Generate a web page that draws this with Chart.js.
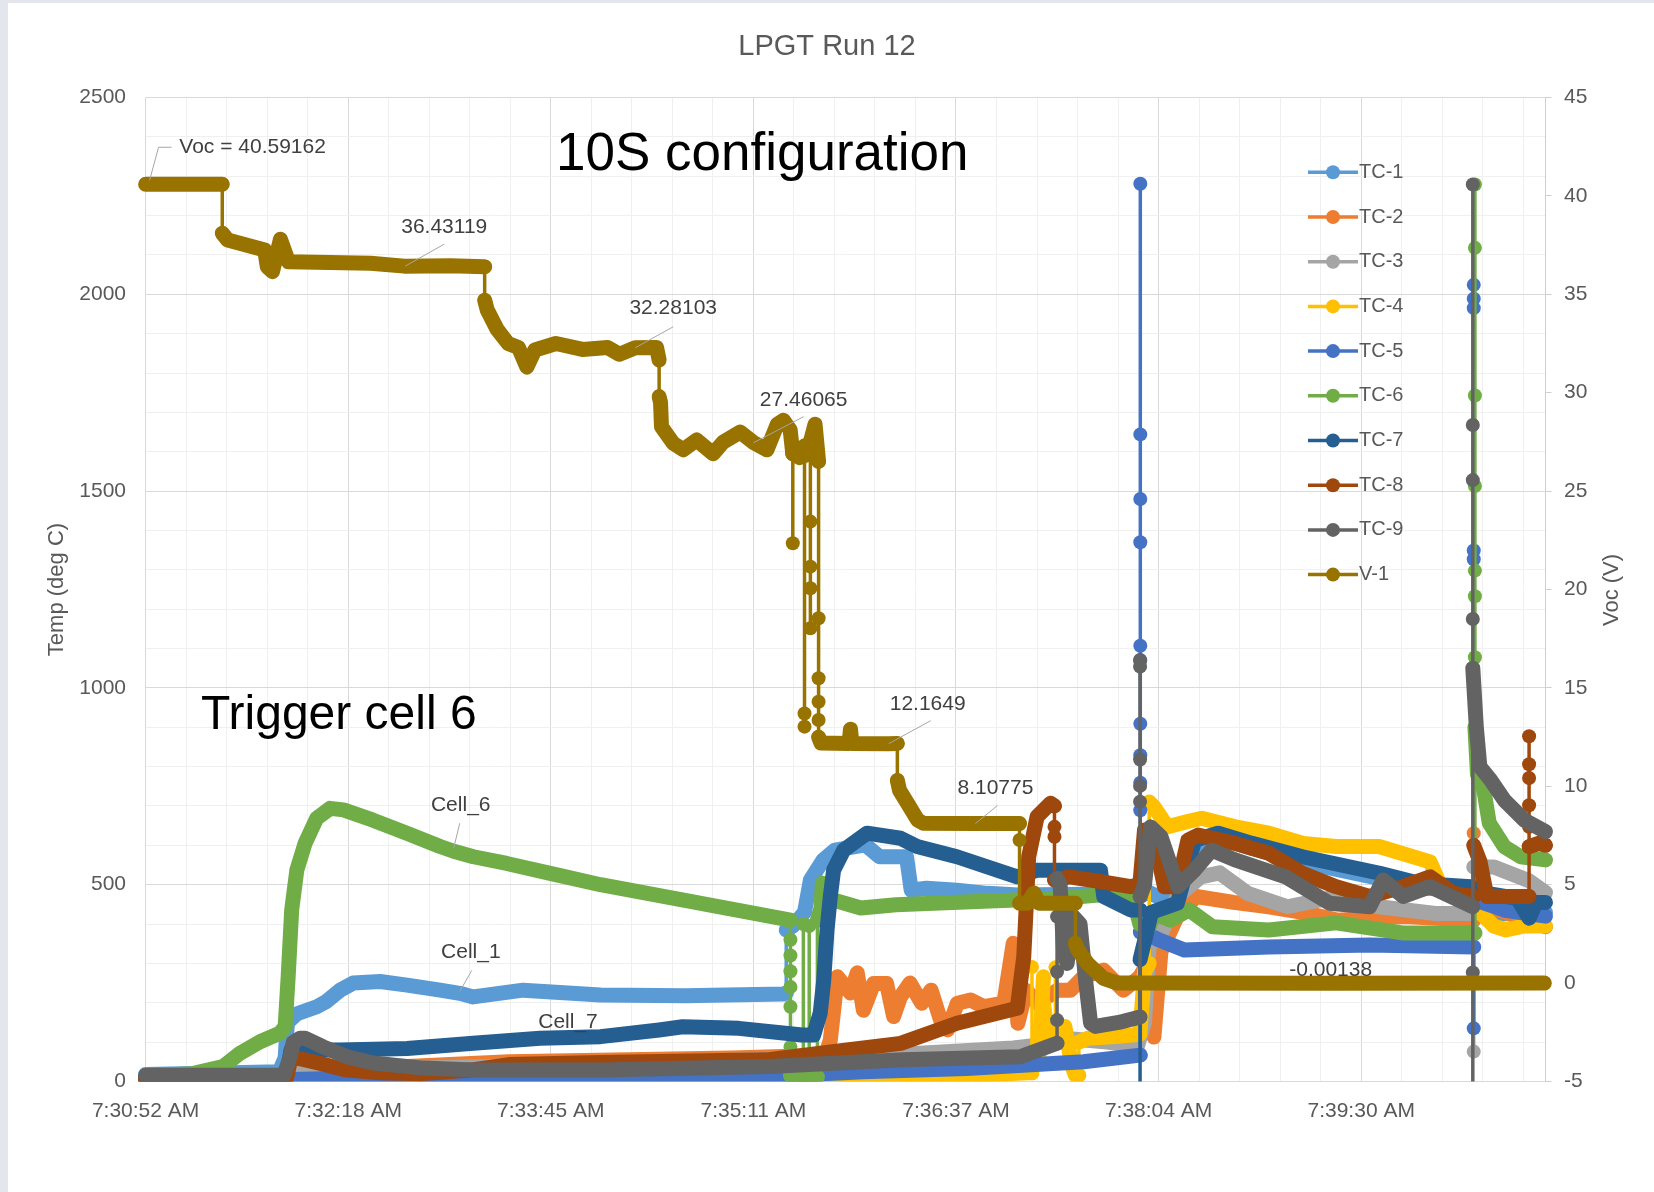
<!DOCTYPE html>
<html>
<head>
  <meta charset="utf-8">
  <title>LPGT Run 12</title>
  <script src="https://cdn.jsdelivr.net/npm/chart.js@4.4.0/dist/chart.umd.min.js"></script>
  <style>
    html, body { margin: 0; }
    body {
      width: 1654px;
      height: 1192px;
      overflow: hidden;
      background:
        linear-gradient(to bottom, #e3e6ec 0 3px, transparent 3px),
        linear-gradient(to right, #e3e6ec 0 8px, #ffffff 8px);
    }
    canvas { display: block; }
  </style>
</head>
<body>
<canvas id="chartEl" width="1654" height="1192"></canvas>
<script>
  // x = seconds after 7:30:51.8, y = deg C (V-1 is volts on the right axis)
  const tc1 = [[0,18],[57,25],[59.5,60],[60.5,150],[64.6,172],[73,190],[77,203],[83,232],[88.5,250],[100,254],[111.5,245],[125.6,232],[134,224],[139.7,215],[161,232],[194,220],[230,218],[272,222],[273.2,225],[273.2,385],[276,395],[281,430],[283.5,512],[289,563],[294,588],[307,601],[313,571],[324.5,571],[326.5,486],[333,491],[346,486],[359,478],[372,474],[400,476],[423,470],[428,480],[440,445],[448,600],[458,618],[472,592],[493,558],[526,516],[543,492],[566,484],[566,420],[575,425],[597,430]];
  const tc2 = [[0,6],[59,8],[62,30],[100,35],[155,50],[250,60],[286,66],[290,68],[292,105],[293.3,174],[295,266],[300.6,225],[303.5,276],[306.1,181],[310.5,249],[316,249],[319,165],[321.9,215],[326,250],[331,199],[335,232],[339,156],[342,131],[346.2,199],[351.8,207],[357.5,190],[366,199],[370,351],[372,148],[375.5,232],[380.3,199],[389,232],[394.4,232],[400,266],[408.5,283],[417,232],[424,266],[428,308],[430,113],[433,330],[440,420],[448,470],[464,455],[479,444],[496,427],[508,410],[537,419],[565,410],[566.4,410],[566.4,631],[566.4,436],[577,436],[597,393]];
  const tc3 = [[0,8],[60,10],[62,30],[100,32],[200,45],[300,62],[330,72],[370,85],[388,97],[392,110],[410,100],[423,90],[426,150],[428,350],[432,360],[440,470],[450,520],[458,530],[470,478],[487,444],[508,470],[526,444],[550,427],[566.4,427],[566.4,76],[566.4,545],[575,545],[590,510],[597,480]];
  const tc4 = [[0,3],[62,4],[200,8],[300,12],[360,18],[376,22],[378,22],[378,291],[378,60],[381,60],[382.9,266],[382.9,199],[384,150],[386,120],[388,120],[388,290],[388,120],[392,140],[395,40],[396.5,16],[398,16],[398,100],[402,110],[415,115],[424,120],[426,280],[428,300],[428,710],[430,698],[435.8,647],[444,660],[450.4,669],[464.7,647],[479,631],[493.6,605],[507.7,597],[526,597],[547.8,558],[552,500],[556.6,494],[566,494],[569,430],[575,395],[580,385],[588,395],[597,395]];
  const tc5 = [[0,3],[62,5],[100,10],[194,14],[282,18],[306,25],[350,33],[400,50],[424.2,67],[424.2,2281],[424.2,1644],[424.2,1480],[424.2,1370],[424.2,1107],[424.2,1070],[424.2,909],[424.2,829],[424.2,759],[424.2,689],[424.2,380],[428,372],[432,360],[443,334],[479,342],[522,347],[566.4,342],[566.4,2024],[566.4,1989],[566.4,1965],[566.4,1349],[566.4,1327],[566.4,135],[566.4,470],[570,455],[580,435],[597,420]];
  const tc6 = [[0,14],[20,20],[33,38],[40.3,72],[48.8,101],[57.3,123],[59.5,139],[60.8,266],[62.3,436],[64.5,537],[68,605],[73,669],[78.7,694],[84.4,690],[97,664],[111.4,631],[125.6,597],[131.4,585],[139.8,571],[154,554],[175.4,525],[194,500],[230,460],[275,410],[275,360],[275,320],[275,280],[275,240],[275,190],[275,88],[275,15],[280.5,15],[280.5,400],[280.5,12],[283,12],[283,395],[283,12],[286.5,12],[286.5,410],[288,440],[288.6,504],[293.3,461],[305,441],[320,449],[336,453],[371,461],[390,465],[414,478],[421,470],[424,400],[428,393],[430,427],[437,410],[445,436],[455,393],[479,385],[507.7,403],[536.5,377],[566.9,377],[566.9,2279],[566.9,2118],[566.9,1743],[566.9,1513],[566.9,1298],[566.9,1233],[566.9,1078],[566.9,900],[568,780],[570.7,741],[573,657],[579.4,597],[586.4,571],[597,563]];
  const tc7 = [[0,10],[60,12],[62,80],[82.9,80],[111.5,84],[139.7,97],[168.2,110],[181,112],[194,114],[219,131],[229,139],[253,135],[280,118],[284.9,118],[287.7,174],[289.2,258],[290.6,385],[292,470],[293.4,537],[297.7,588],[307.7,631],[321.9,618],[329,597],[346,571],[371.7,520],[380.2,537],[407.2,537],[408.6,470],[420,436],[424.1,436],[424.1,-40],[424.1,310],[429,430],[440,453],[447.4,613],[457.4,631],[471.8,605],[493.3,571],[526.3,529],[543.5,503],[565.1,495],[570,480],[585,465],[590,415],[593,455],[597,455]];
  const tc8 = [[0,5],[60,6],[62,60],[66,58],[75,45],[85,30],[100,22],[118,20],[140,30],[155,43],[194,48],[265,55],[293,76],[322,97],[346,148],[371.7,186],[374.5,317],[376.6,571],[380.2,673],[385.9,707],[387.6,700],[387.6,647],[387.6,622],[387.6,512],[394,520],[405,510],[420,495],[424,500],[426,639],[430,622],[434.5,495],[440,495],[444.5,613],[448.8,626],[464.6,605],[479,580],[493.3,529],[507.7,495],[522,470],[536.3,495],[547.8,520],[557.8,478],[566.4,470],[566.4,600],[569,560],[572,470],[590,470],[590,877],[590,806],[590,771],[590,702],[590,647],[590,597],[594,605],[597,600]];
  const tc9 = [[0,16],[59,16],[61.5,60],[63,100],[65.9,110],[68,110],[75.7,88],[85.9,63],[97,47],[118.4,34],[139.7,29],[194,29],[266,38],[323,55],[373,63],[388.7,97],[388.7,156],[388.7,279],[388.7,419],[388.7,516],[390,500],[391.5,330],[393,300],[395.5,420],[398.5,400],[401,250],[403,148],[405,140],[415,150],[424.1,164],[424.1,1071],[424.1,1054],[424.1,818],[424.1,751],[424.1,711],[424.1,470],[426,500],[428.6,647],[433,622],[440.2,495],[447.3,537],[454.6,588],[464.6,563],[486.2,520],[504.8,453],[522,444],[527.8,512],[536.3,470],[547.8,495],[566,444],[566,2279],[566,1668],[566,1528],[566,1175],[566,-40],[566,277],[566,1050],[567.5,900],[569,800],[573.6,766],[579.4,715],[588,664],[597,635]];
  const v1 = [[0,40.59162],[16,40.59],[32.7,40.59],[32.7,38.1],[35,37.76],[50.8,37.25],[51.9,36.4],[54.1,36.15],[57.5,37.8],[60.9,36.66],[96,36.58],[110.3,36.43119],[130,36.45],[144.6,36.4],[144.6,34.7],[145.7,34.2],[150,33.2],[154.6,32.5],[159,32.3],[162.6,31.3],[166,32.17],[175,32.5],[186.3,32.2],[197,32.3],[202,31.95],[208.8,32.28103],[217.9,32.3],[219,31.66],[219,29.8],[219.6,29.5],[220,28.27],[225,27.43],[229.3,27.1],[235,27.6],[242,26.9],[246.4,27.5],[253.6,28.0],[259.3,27.46065],[265,27.1],[269.4,28.4],[272,28.6],[274.9,28.1],[276,26.9],[276,22.35],[276,26.9],[279,26.7],[281,27.3],[281,13.7],[281,13.03],[281,26.8],[283.5,27.2],[283.5,23.45],[283.5,21.16],[283.5,20.06],[283.5,18.03],[283.5,27.5],[285.5,28.4],[287,26.5],[287,18.54],[287,15.49],[287,14.3],[287,13.37],[287,12.5],[288,12.2],[300,12.18],[300.6,12.9],[301.2,12.18],[316.9,12.1649],[320.6,12.18],[320.6,10.3],[321.5,9.8],[324.9,9.14],[329.2,8.29],[331.7,8.12],[353.9,8.10775],[372.7,8.11],[372.7,7.27],[372.7,4.06],[376,4.06],[378.8,4.58],[381,4.06],[396.5,4.06],[396.5,2.02],[397.5,1.7],[401.7,1.0],[408.5,0.24],[414.5,0],[420,0],[505.4,-0.00138],[596.5,0]];

  const seriesNames = ['TC-1', 'TC-2', 'TC-3', 'TC-4', 'TC-5', 'TC-6', 'TC-7', 'TC-8', 'TC-9', 'V-1'];
  const seriesData = [tc1, tc2, tc3, tc4, tc5, tc6, tc7, tc8, tc9, v1];
  const seriesColors = ['#5B9BD5', '#ED7D31', '#A5A5A5', '#FFC000', '#4472C4', '#70AD47', '#255E91', '#9E480E', '#636363', '#997300'];

  const timeLabels = ['7:30:52 AM', '7:32:18 AM', '7:33:45 AM', '7:35:11 AM', '7:36:37 AM', '7:38:04 AM', '7:39:30 AM'];
  const tempTicks = [0, 500, 1000, 1500, 2000, 2500];
  const vocTicks = [-5, 0, 5, 10, 15, 20, 25, 30, 35, 40, 45];

  // V-1 readings that get a value label (picked by sample time)
  const voltCallouts = [
    { at: 0, prefix: 'Voc = ', dx: 107, dy: -37, leader: [[4, -4], [13, -37], [26, -37]] },
    { at: 110.3, dx: 40, dy: -39, leader: [[1, 0], [40, -22]] },
    { at: 208.8, dx: 38, dy: -40, leader: [[0, 0], [38, -21]] },
    { at: 259.3, dx: 50, dy: -42, leader: [[0, 0], [50, -26]] },
    { at: 316.9, dx: 39, dy: -39, leader: [[0, 0], [42, -23]] },
    { at: 353.9, dx: 20, dy: -35, leader: [[0, 0], [22, -18]] },
    { at: 505.4, dx: 0, dy: -13 }
  ];
  const cellCallouts = [
    { series: 'TC-6', text: 'Cell_6', at: 131.4, dx: 7, dy: -46, leader: [[0, -3], [6, -28]] },
    { series: 'TC-1', text: 'Cell_1', at: 134, dx: 11, dy: -41, leader: [[0, -2], [12, -23]] },
    { series: 'TC-7', text: 'Cell_7', at: 181, dx: -2, dy: -15 }
  ];
  const bigNotes = [
    { text: '10S configuration', x: 556, y: 170, size: 53 },
    { text: 'Trigger cell 6', x: 201, y: 729, size: 48 }
  ];

  const majorGrid = '#d9d9d9';
  const minorGrid = '#f0f0f0';
  const textGray = '#595959';
  const fontFamily = "'Liberation Sans', Arial, sans-serif";
  const bandWidth = 15;   // dense runs of markers merge into a band
  const lineWidth = 3.5;
  const markerRadius = 7;
  const minorStep = 86.4 / 5;

  Chart.defaults.font.family = fontFamily;

  // a sample shares its time with a neighbour -> sudden jump, drawn thin with markers
  function isJump(data, i) {
    if (i === undefined) return false;
    const t = data[i][0];
    return (i > 0 && data[i - 1][0] === t) || (i < data.length - 1 && data[i + 1][0] === t);
  }

  const datasets = seriesNames.map((label, i) => ({
    label,
    data: seriesData[i],
    yAxisID: label === 'V-1' ? 'y2' : 'y',
    borderColor: seriesColors[i],
    backgroundColor: seriesColors[i],
    pointBackgroundColor: seriesColors[i],
    pointBorderWidth: 0,
    borderWidth: bandWidth,
    borderCapStyle: 'round',
    borderJoinStyle: 'round',
    tension: 0,
    pointRadius: ctx => isJump(ctx.dataset.data, ctx.dataIndex) ? markerRadius : 0,
    segment: {
      borderWidth: ctx => Math.abs(ctx.p0.x - ctx.p1.x) < 0.01 ? lineWidth : bandWidth
    },
    order: seriesNames.length - 1 - i,
    clip: { left: 10, top: 10, right: 10, bottom: 0 }
  }));

  function drawLeader(ctx, x, y, leader) {
    if (!leader) return;
    ctx.beginPath();
    leader.forEach(([lx, ly], k) => k === 0 ? ctx.moveTo(x + lx, y + ly) : ctx.lineTo(x + lx, y + ly));
    ctx.stroke();
  }

  const notesPlugin = {
    id: 'notes',
    afterDatasetsDraw(chart) {
      const { ctx, scales } = chart;
      ctx.save();
      ctx.lineWidth = 1;
      ctx.strokeStyle = '#a6a6a6';
      ctx.fillStyle = '#404040';
      ctx.font = '21px ' + fontFamily;
      ctx.textAlign = 'center';
      ctx.textBaseline = 'middle';

      voltCallouts.forEach(c => {
        const p = v1.find(d => d[0] === c.at);
        const x = scales.x.getPixelForValue(p[0]);
        const y = scales.y2.getPixelForValue(p[1]);
        drawLeader(ctx, x, y, c.leader);
        ctx.fillText((c.prefix || '') + p[1], x + c.dx, y + c.dy);
      });

      cellCallouts.forEach(c => {
        const data = seriesData[seriesNames.indexOf(c.series)];
        const p = data.find(d => d[0] === c.at);
        const x = scales.x.getPixelForValue(p[0]);
        const y = scales.y.getPixelForValue(p[1]);
        drawLeader(ctx, x, y, c.leader);
        ctx.fillText(c.text, x + c.dx, y + c.dy);
      });

      // legend sits inside the plot, top right
      ctx.font = '20px ' + fontFamily;
      ctx.textAlign = 'left';
      chart.data.datasets.forEach((ds, i) => {
        const y = 172.3 + i * 44.7;
        ctx.strokeStyle = ds.borderColor;
        ctx.lineWidth = lineWidth;
        ctx.beginPath();
        ctx.moveTo(1308, y);
        ctx.lineTo(1358, y);
        ctx.stroke();
        ctx.fillStyle = ds.borderColor;
        ctx.beginPath();
        ctx.arc(1333, y, markerRadius, 0, Math.PI * 2);
        ctx.fill();
        ctx.fillStyle = textGray;
        ctx.fillText(ds.label, 1359, y);
      });

      // secondary axis title reads bottom-to-top like the primary one
      ctx.save();
      ctx.translate(1612, 590);
      ctx.rotate(-Math.PI / 2);
      ctx.textAlign = 'center';
      ctx.font = '22px ' + fontFamily;
      ctx.fillText('Voc (V)', 0, 0);
      ctx.restore();

      ctx.fillStyle = '#000000';
      ctx.textBaseline = 'alphabetic';
      bigNotes.forEach(n => {
        ctx.font = n.size + 'px ' + fontFamily;
        ctx.fillText(n.text, n.x, n.y);
      });
      ctx.restore();
    }
  };

  new Chart(chartEl, {
    type: 'line',
    data: { datasets },
    plugins: [notesPlugin],
    options: {
      responsive: false,
      devicePixelRatio: 1,
      animation: false,
      events: [],
      layout: { padding: 0 },
      plugins: {
        legend: { display: false },
        tooltip: { enabled: false },
        title: {
          display: true,
          text: 'LPGT Run 12',
          color: textGray,
          font: { size: 29, weight: 'normal' },
          padding: { top: 30, bottom: 32.7 }
        }
      },
      scales: {
        x: {
          type: 'linear',
          min: 0,
          max: 597,
          afterBuildTicks: axis => {
            axis.ticks = [];
            for (let i = 0; i * minorStep <= 597; i++) axis.ticks.push({ value: i * minorStep });
          },
          afterFit: axis => { axis.height = 110.5; },
          grid: { color: c => c.index % 5 === 0 ? majorGrid : minorGrid, drawTicks: false },
          border: { color: majorGrid },
          ticks: {
            autoSkip: false,
            maxRotation: 0,
            padding: 16.7,
            color: textGray,
            font: { size: 21 },
            callback: (v, i) => i % 5 === 0 ? timeLabels[i / 5] : ''
          }
        },
        y: {
          position: 'left',
          min: 0,
          max: 2500,
          afterFit: axis => { axis.width = 145.6; },
          grid: { color: c => tempTicks.includes(c.tick.value) ? majorGrid : minorGrid, drawTicks: false },
          border: { display: false },
          ticks: {
            stepSize: 100,
            padding: 19.6,
            color: textGray,
            font: { size: 21 },
            callback: v => tempTicks.includes(v) ? String(v) : ''
          },
          title: {
            display: true,
            text: 'Temp (deg C)',
            color: textGray,
            font: { size: 22 },
            padding: { top: 43.8, bottom: 0 }
          }
        },
        y2: {
          position: 'right',
          min: -5,
          max: 45,
          afterFit: axis => { axis.width = 108.5; },
          grid: { drawOnChartArea: false, color: '#cfcfcf', tickLength: 6 },
          border: { display: true, color: '#cfcfcf' },
          ticks: {
            stepSize: 5,
            padding: 12.5,
            color: textGray,
            font: { size: 21 },
            callback: v => vocTicks.includes(v) ? String(v) : ''
          }
        }
      }
    }
  });
</script>
</body>
</html>
